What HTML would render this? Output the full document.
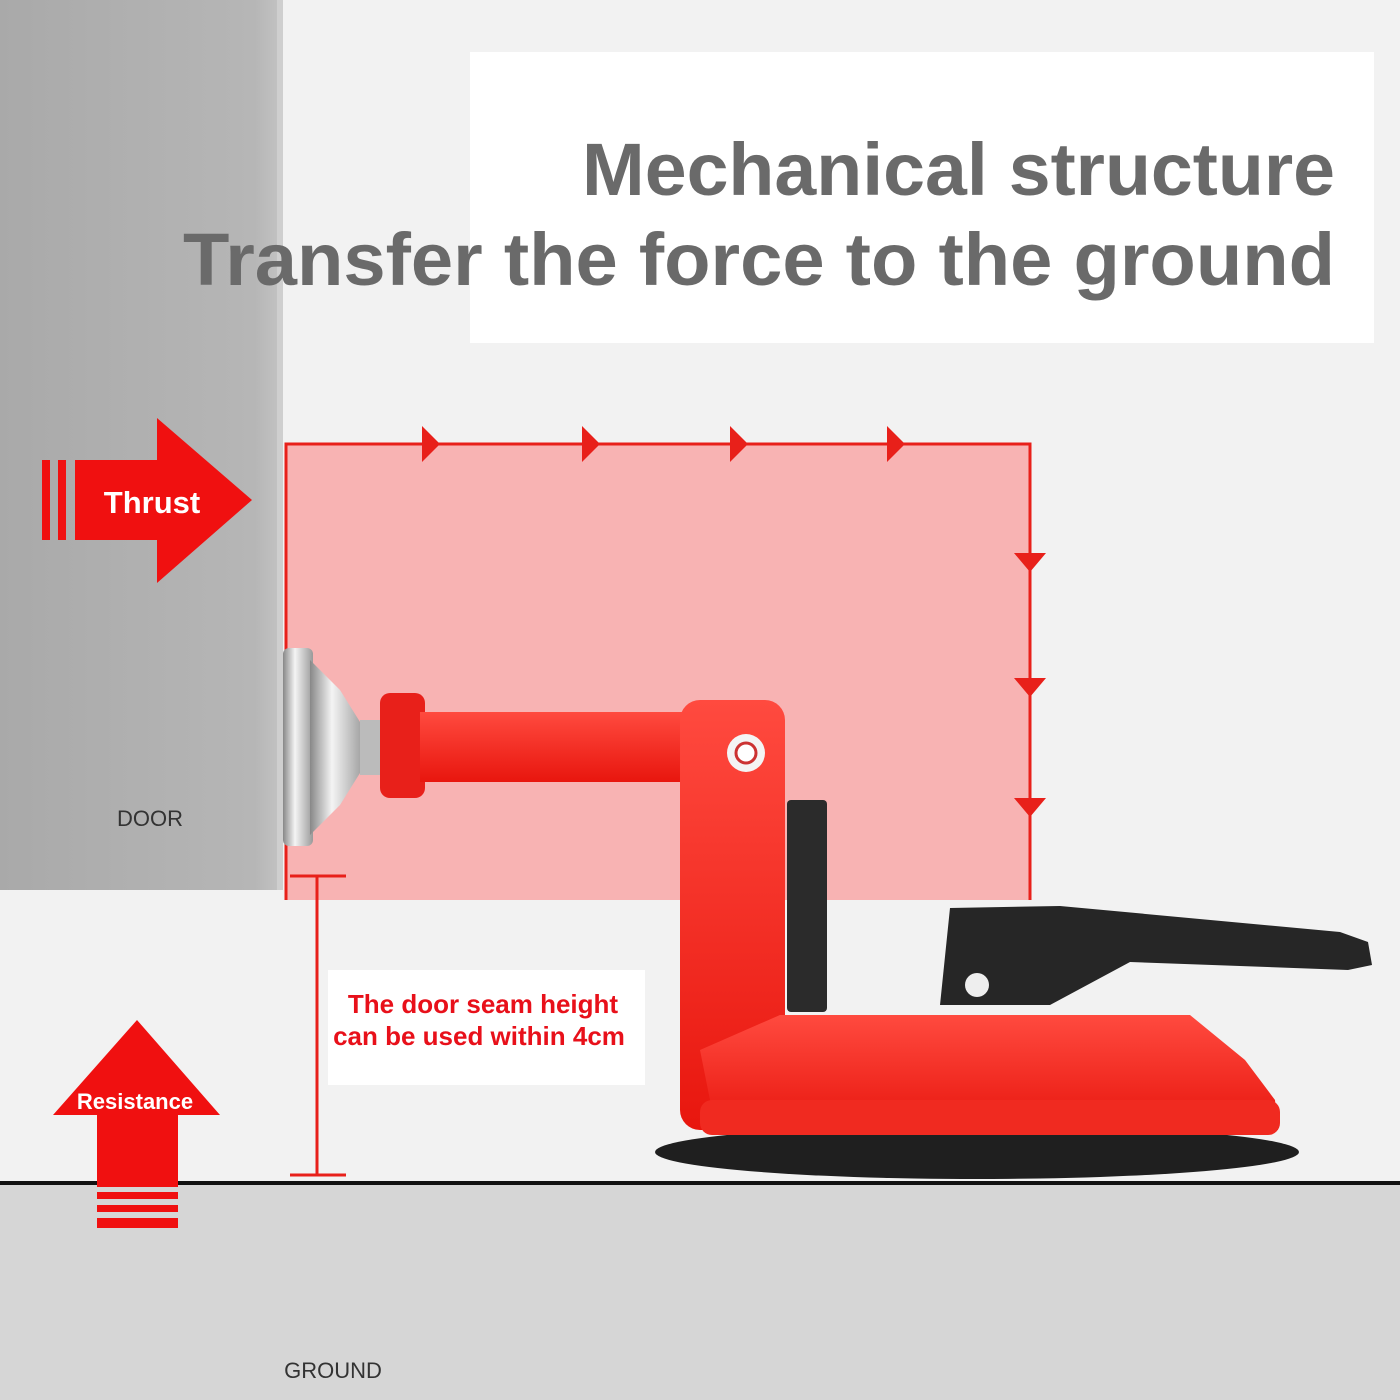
<!DOCTYPE html>
<html><head><meta charset="utf-8"><style>
html,body{margin:0;padding:0;background:#f2f2f2;}
svg{display:block}
text{font-family:"Liberation Sans",sans-serif;font-weight:bold}
text.n{font-weight:normal}
</style></head><body>
<svg width="1400" height="1400" viewBox="0 0 1400 1400" xmlns="http://www.w3.org/2000/svg">
<defs>
<linearGradient id="door" x1="0" y1="0" x2="1" y2="0">
<stop offset="0" stop-color="#a9a9a9"/><stop offset="0.9" stop-color="#b6b6b6"/><stop offset="1" stop-color="#c4c4c4"/></linearGradient>
<linearGradient id="silver" x1="0" y1="0" x2="1" y2="0">
<stop offset="0" stop-color="#888"/><stop offset="0.4" stop-color="#f4f4f4"/><stop offset="1" stop-color="#999"/></linearGradient>
<linearGradient id="red" x1="0" y1="0" x2="0" y2="1">
<stop offset="0" stop-color="#ff4a3f"/><stop offset="1" stop-color="#e8160e"/></linearGradient>
</defs>
<rect width="1400" height="1400" fill="#f2f2f2"/>
<rect x="0" y="0" width="283" height="890" fill="url(#door)"/>
<rect x="277" y="0" width="6" height="890" fill="#cfcfcf"/>
<text class="n" x="150" y="826" font-size="22" fill="#333" text-anchor="middle">DOOR</text>
<rect x="0" y="1183" width="1400" height="217" fill="#d6d6d6"/>
<rect x="0" y="1181" width="1400" height="4" fill="#111"/>
<text class="n" x="333" y="1378" font-size="22" fill="#333" text-anchor="middle">GROUND</text>
<rect x="470" y="52" width="904" height="291" fill="#fff"/>
<text x="582" y="195" font-size="74" fill="#6a6a6a" textLength="753" lengthAdjust="spacingAndGlyphs">Mechanical structure</text>
<text x="183" y="285" font-size="74" fill="#6a6a6a" textLength="1152" lengthAdjust="spacingAndGlyphs">Transfer the force to the ground</text>
<rect x="285" y="444" width="745" height="456" fill="#f8b3b3"/>
<polyline points="286,900 286,444 1030,444 1030,900" fill="none" stroke="#e8201a" stroke-width="3"/>
<g fill="#e8201a">
<polygon points="422,426 440,444 422,462"/><polygon points="582,426 600,444 582,462"/>
<polygon points="730,426 748,444 730,462"/><polygon points="887,426 905,444 887,462"/>
<polygon points="1014,553 1046,553 1030,572"/><polygon points="1014,678 1046,678 1030,697"/>
<polygon points="1014,798 1046,798 1030,817"/>
</g>
<g fill="#f01010">
<rect x="42" y="460" width="8" height="80"/><rect x="58" y="460" width="8" height="80"/>
<polygon points="75,460 157,460 157,418 252,500 157,583 157,540 75,540"/>
</g>
<text x="152" y="513" font-size="31" fill="#fff" text-anchor="middle">Thrust</text>
<g fill="#f01010">
<polygon points="137,1020 220,1115 178,1115 178,1187 97,1187 97,1115 53,1115"/>
<rect x="97" y="1192" width="81" height="7"/><rect x="97" y="1205" width="81" height="7"/><rect x="97" y="1218" width="81" height="10"/>
</g>
<text x="135" y="1109" font-size="22" fill="#fff" text-anchor="middle">Resistance</text>
<g stroke="#e8201a" stroke-width="3">
<line x1="317" y1="876" x2="317" y2="1175"/><line x1="290" y1="876" x2="346" y2="876"/><line x1="290" y1="1175" x2="346" y2="1175"/>
</g>
<rect x="328" y="970" width="317" height="115" fill="#fff"/>
<text x="483" y="1013" font-size="26" fill="#e8101a" text-anchor="middle">The door seam height</text>
<text x="479" y="1045" font-size="26" fill="#e8101a" text-anchor="middle">can be used within 4cm</text>
<rect x="283" y="648" width="30" height="198" rx="6" fill="url(#silver)"/>
<polygon points="310,660 340,690 365,730 365,765 340,805 310,835" fill="url(#silver)"/>
<rect x="360" y="720" width="25" height="55" fill="#bbb"/>
<rect x="380" y="693" width="45" height="105" rx="10" fill="#e8201a"/>
<rect x="420" y="712" width="300" height="70" fill="url(#red)"/>
<rect x="680" y="700" width="105" height="430" rx="20" fill="url(#red)"/>
<circle cx="746" cy="753" r="19" fill="#f4f4f4"/><circle cx="746" cy="753" r="10" fill="#fff" stroke="#c33" stroke-width="3"/>
<rect x="787" y="800" width="40" height="212" rx="4" fill="#2b2b2b"/>
<ellipse cx="977" cy="1152" rx="322" ry="27" fill="#1f1f1f"/>
<polygon points="710,1100 700,1050 780,1015 1190,1015 1245,1060 1275,1100 1278,1130 710,1130" fill="url(#red)"/>
<rect x="700" y="1100" width="580" height="35" rx="12" fill="#f02a20"/>
<polygon points="950,908 1060,906 1340,932 1368,942 1372,965 1348,970 1130,962 1050,1005 940,1005" fill="#262626"/>
<circle cx="977" cy="985" r="12" fill="#eee"/>
</svg>
</body></html>
